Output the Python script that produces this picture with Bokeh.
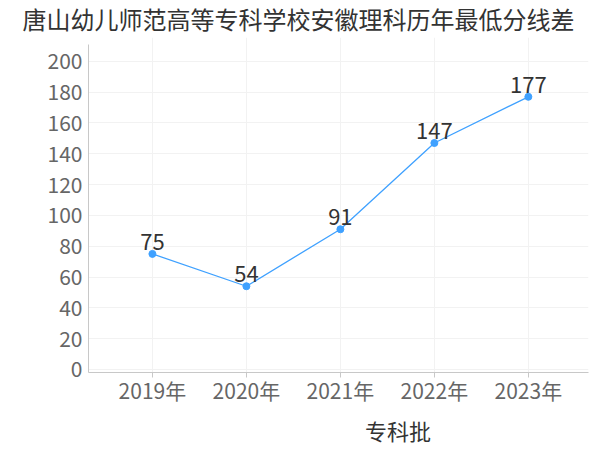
from bokeh.plotting import figure
from bokeh.layouts import column
from bokeh.models import (ColumnDataSource, Range1d, FixedTicker, LabelSet,
                          Legend, LegendItem)
from bokeh.core.properties import value
from bokeh.embed import file_html
from bokeh.resources import INLINE

# ---- data ----
title_text = "唐山幼儿师范高等专科学校安徽理科历年最低分线差"
years = ["2019年", "2020年", "2021年", "2022年", "2023年"]
values = [75, 54, 91, 147, 177]
series_name = "专科批"
y_ticks = [0, 20, 40, 60, 80, 100, 120, 140, 160, 180, 200]

FONT = "Noto Sans CJK SC"
BLUE = "#3fa1ff"

idx = list(range(len(years)))
src = ColumnDataSource(dict(x=idx, y=values, label=[str(v) for v in values]))

p = figure(width=600, height=410, output_backend="svg",
           toolbar_location=None,
           x_range=Range1d(-0.68, 4.64), y_range=Range1d(-2, 215.5),
           min_border_left=88, min_border_right=12, min_border_top=37,
           min_border_bottom=38)

p.title.text = title_text
p.title.align = "left"
p.title.offset = -66
p.title.standoff = 0
p.title.vertical_align = "top"
p.title.text_font = FONT
p.title.text_font_size = "24px"
p.title.text_font_style = "normal"
p.title.text_color = "#333333"

p.outline_line_color = None
p.background_fill_color = "white"
p.border_fill_color = "white"

# axes
p.xaxis.ticker = FixedTicker(ticks=idx)
p.xaxis.major_label_overrides = {i: y for i, y in zip(idx, years)}
p.yaxis.ticker = FixedTicker(ticks=y_ticks)
p.yaxis.bounds = (-2, 211)
for ax in (p.xaxis[0], p.yaxis[0]):
    ax.axis_line_color = "#c8c8c8"
    ax.major_label_text_font = FONT
    ax.major_label_text_font_size = "21px"
    ax.major_label_text_color = "#666666"
    ax.minor_tick_line_color = None
p.xaxis.major_tick_line_color = "#c8c8c8"
p.xaxis.major_tick_in = 0
p.xaxis.major_tick_out = 5
p.xaxis.major_label_standoff = -3
p.yaxis.major_tick_line_color = None
p.yaxis.major_label_standoff = 0

# grid
p.xgrid[0].ticker = FixedTicker(ticks=idx + [4.64])
p.xgrid.grid_line_color = "#f2f2f2"
p.ygrid.grid_line_color = "#f2f2f2"

# series
line_r = p.line("x", "y", source=src, line_color=BLUE, line_width=1.3)
dot_r = p.scatter("x", "y", source=src, size=7, fill_color=BLUE, line_color=BLUE)

labels = LabelSet(x="x", y="y", text="label", source=src, y_offset=4,
                  text_align="center", text_baseline="alphabetic",
                  text_font=value(FONT), text_font_size="22px",
                  text_color="#333333")
p.add_layout(labels)

# ---- legend strip below the chart ----
leg = figure(width=600, height=40, output_backend="svg", toolbar_location=None,
             x_range=Range1d(0, 1), y_range=Range1d(0, 1),
             min_border_left=0, min_border_right=0, min_border_top=0,
             min_border_bottom=0, x_axis_type=None, y_axis_type=None)
leg.outline_line_color = None
leg.grid.visible = False
leg.background_fill_color = "white"
leg.border_fill_color = "white"
leg_line = leg.line(x=[], y=[], line_color=BLUE, line_width=1.3)
leg_dot = leg.scatter(x=[], y=[], size=7, fill_color=BLUE, line_color=BLUE)

legend = Legend(items=[LegendItem(label=series_name, renderers=[leg_line, leg_dot])],
                orientation="horizontal", location=(257, 4),
                border_line_color=None, background_fill_alpha=0,
                label_text_font=FONT, label_text_font_size="22px",
                label_text_color="#333333", glyph_width=16, glyph_height=20,
                label_standoff=4, padding=0, margin=0)
leg.add_layout(legend, "center")

layout = column(p, leg, spacing=0)
open("out.html", "w").write(file_html(layout, INLINE))
